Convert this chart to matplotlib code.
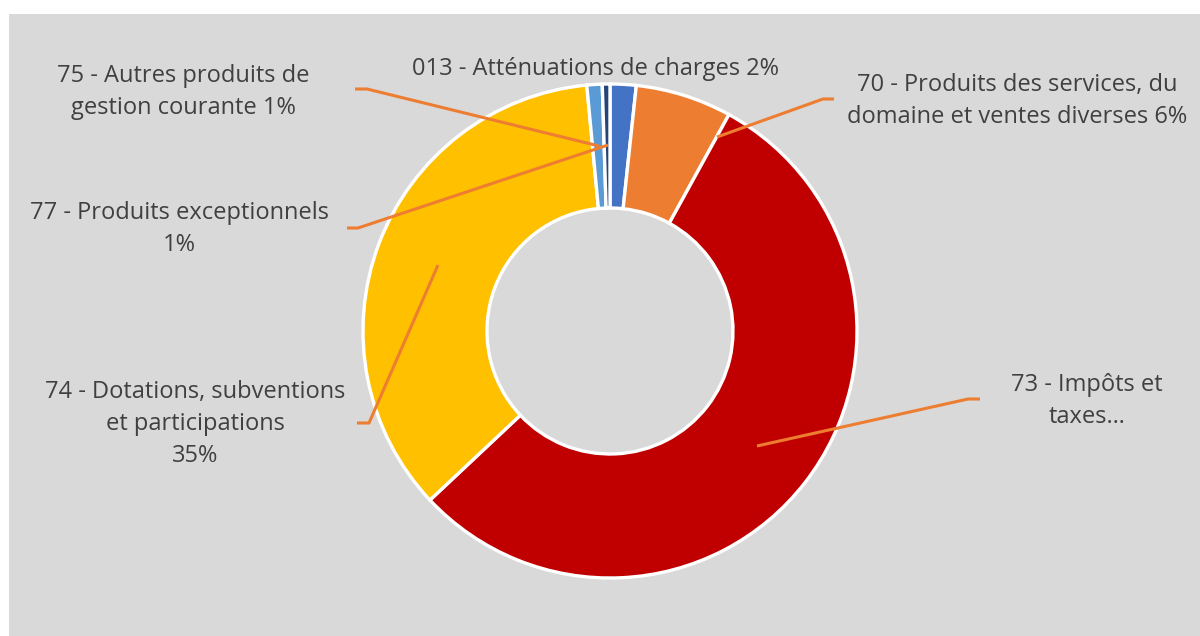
import matplotlib.pyplot as plt
from matplotlib.patches import Rectangle

# ---- data ----
categories = ["013 - Atténuations de charges",
              "70 - Produits des services, du domaine et ventes diverses",
              "73 - Impôts et taxes",
              "74 - Dotations, subventions et participations",
              "75 - Autres produits de gestion courante",
              "77 - Produits exceptionnels"]
values = [1.7, 6.3, 55.0, 35.5, 1.0, 0.5]
colors = ["#4472C4", "#ED7D31", "#C00000", "#FFC000", "#5B9BD5", "#264478"]

label_texts = ["013 - Atténuations de charges 2%",
               "70 - Produits des services, du\ndomaine et ventes diverses 6%",
               "73 - Impôts et\ntaxes…",
               "74 - Dotations, subventions\net participations\n35%",
               "75 - Autres produits de\ngestion courante 1%",
               "77 - Produits exceptionnels\n1%"]

# ---- layout (pixel coords, y from top) ----
W, H = 1200, 636
label_pos = [(596, 69), (1017, 101), (1087, 401), (195, 424), (183, 92), (179, 229)]
leaders = [None,
           [(834, 99), (823, 99), (717, 137)],
           [(980, 399), (968, 399), (757, 446)],
           [(357, 423), (369, 423), (438, 265)],
           [(355, 89), (367, 89), (599, 146)],
           [(347, 228), (358, 228), (608, 145)]]

plt.rcParams['font.family'] = ['Open Sans', 'DejaVu Sans']

fig = plt.figure(figsize=(12, 6.36), dpi=100)
ax = fig.add_axes([0, 0, 1, 1])

def fy(y):
    return H - y

ax.add_patch(Rectangle((9, 0), W - 9, H - 14, facecolor="#D9D9D9", edgecolor="none", zorder=0))

ax.pie(values, colors=colors, startangle=90, counterclock=False,
       center=(610, fy(331)), radius=247,
       wedgeprops=dict(width=124, edgecolor="white", linewidth=2.4), frame=True)
ax.set_xlim(0, W)
ax.set_ylim(0, H)
ax.set_aspect('equal')
ax.axis('off')

for txt, (x, y), pts in zip(label_texts, label_pos, leaders):
    ax.text(x, fy(y), txt, ha='center', va='center', fontsize=17,
            color="#404040", linespacing=1.47, zorder=5)
    if pts:
        ax.plot([p[0] for p in pts], [fy(p[1]) for p in pts],
                color="#ED7D31", lw=2.2, solid_capstyle='butt', zorder=4)

fig.savefig("out.png", dpi=100)
